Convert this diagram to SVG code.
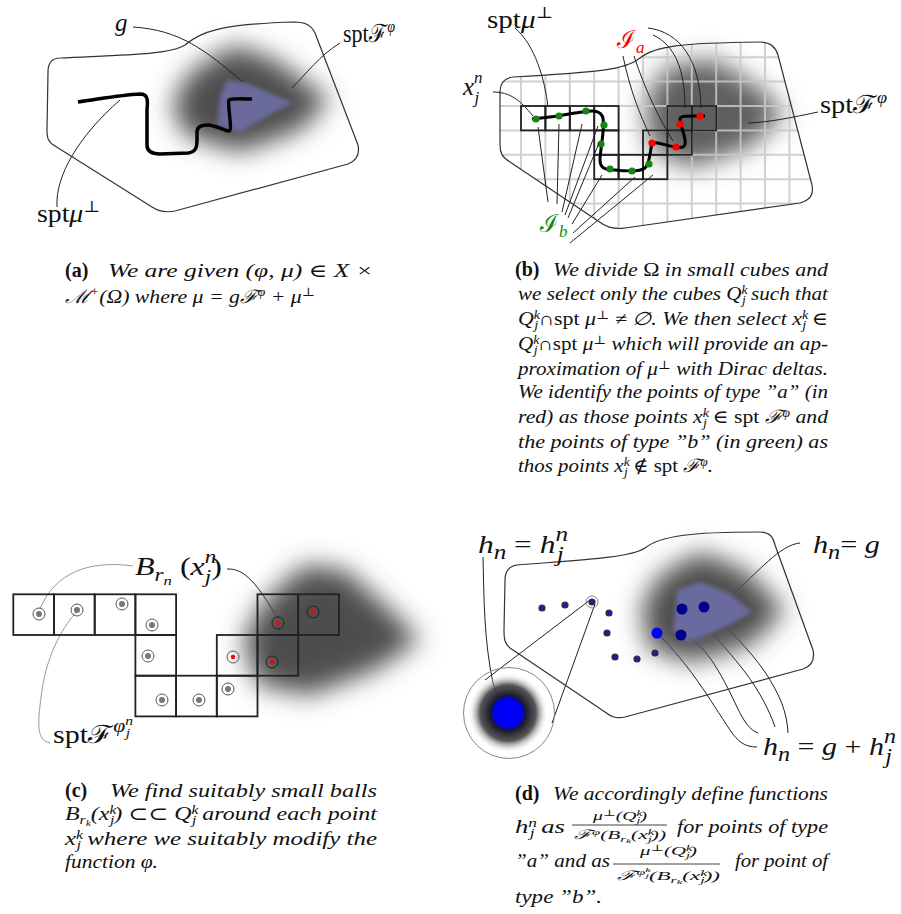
<svg xmlns="http://www.w3.org/2000/svg" width="901" height="914" viewBox="0 0 901 914">
<style>
.lbl{font-family:"Liberation Serif","DejaVu Serif",serif;font-size:25px;fill:#111}
.cap{font-family:"Liberation Serif","DejaVu Serif",serif;font-size:18.5px;font-style:italic;fill:#111}
.frac{font-family:"Liberation Serif","DejaVu Serif",serif;font-size:13px;font-style:italic;fill:#111}
.bf{font-family:"Liberation Serif","DejaVu Serif",serif;font-size:20px;font-weight:bold;fill:#111}
.it{font-style:italic}
.up{font-style:normal}
.outline{fill:none;stroke:#333;stroke-width:1.2}
.lead{fill:none;stroke:#222;stroke-width:1}
.leadg{fill:none;stroke:#999;stroke-width:1}
.box{fill:none;stroke:#222;stroke-width:1.8}
.ring{fill:none;stroke:#555;stroke-width:1}
.gdot{fill:#777;filter:url(#bd)}
.rdot{fill:#ff0000}
.green{fill:#118811}
.red{fill:#ff0000}
.sdot{fill:#1a1aa0;stroke:#333;stroke-width:1.2;filter:url(#bd)}
</style>
<defs>
<filter id="bl" x="-50%" y="-50%" width="200%" height="200%"><feGaussianBlur stdDeviation="13"/></filter>
<filter id="bs" x="-20%" y="-20%" width="140%" height="140%"><feGaussianBlur stdDeviation="2"/></filter>
<filter id="bd" x="-50%" y="-50%" width="200%" height="200%"><feGaussianBlur stdDeviation="0.7"/></filter>
<clipPath id="clipB"><path d="M513,77 C600,72 625,70 640,58 C655,46 680,43 760,42 C772,42 776,48 778,55 L812,185 C814,195 810,200 800,203 L625,228 C612,230 605,226 598,221 L510,162 C502,157 500,153 500,145 L500,92 C500,83 505,78 513,77 Z"/></clipPath>
<radialGradient id="mag" cx="0.5" cy="0.5" r="0.5">
<stop offset="0" stop-color="#0000ff"/>
<stop offset="0.36" stop-color="#0000ee"/>
<stop offset="0.44" stop-color="#1a1a2a"/>
<stop offset="0.7" stop-color="#444" stop-opacity="0.9"/>
<stop offset="1" stop-color="#fff" stop-opacity="0"/>
</radialGradient>
</defs>
<rect width="901" height="914" fill="#fff"/>

<!-- Panel (a) -->
<g id="panel-a">
<polygon points="190,72 235,45 275,60 330,100 300,130 240,152 185,135 172,105" fill="#4e4e4e" filter="url(#bl)"/>
<polygon points="227,80 247,83 293,103 273,113 240,132 217,125 220,97" fill="#6b6b9c" filter="url(#bs)"/>
<path class="outline" d="M60,58 C120,55 170,55 185,45 C200,32 220,24 295,22 C305,22 312,26 315,33 L358,145 C360,155 356,161 348,164 L175,211 C165,213 158,211 152,207 L55,146 C48,142 47,138 47,130 L48,72 C48,63 52,58 60,58 Z"/>
<path d="M78,102 C100,99 120,95 140,94 C148,94 148,100 147,110 L147,145 C147,152 152,154 160,154 L188,153 C196,152 197,147 197,140 L197,132 C197,126 202,125 208,125 C215,125 225,131 229,131 C233,130 227,104 229,100 C231,98 245,99 252,99" fill="none" stroke="#000" stroke-width="3.5"/>
</g>
<g id="labels-a">
<text class="lbl it" x="115" y="31">g</text>
<text class="lbl" x="343" y="42" textLength="52" lengthAdjust="spacingAndGlyphs">spt<tspan>ℱ</tspan><tspan dy="-10" font-size="16" class="it">φ</tspan></text>
<text class="lbl" x="37" y="222" textLength="63" lengthAdjust="spacingAndGlyphs">spt<tspan class="it">μ</tspan><tspan dy="-10" font-size="16">⊥</tspan></text>
</g>

<!-- Panel (b) -->
<g id="panel-b">
<polygon points="665,68 712,58 760,88 785,115 748,148 690,168 650,148 645,102" fill="#5e5e5e" filter="url(#bl)"/>
<path clip-path="url(#clipB)" stroke="#c8c8c8" stroke-opacity="0.85" stroke-width="2" fill="none" d="M496.6,30V235M521,30V235M545.4,30V235M569.8,30V235M594.2,30V235M618.6,30V235M643,30V235M667.4,30V235M691.8,30V235M716.2,30V235M740.6,30V235M765,30V235M789.4,30V235M813.8,30V235M495,32.8H820M495,57.2H820M495,81.6H820M495,106H820M495,130.4H820M495,154.8H820M495,179.2H820M495,203.6H820M495,228H820"/>
<path class="outline" d="M513,77 C600,72 625,70 640,58 C655,46 680,43 760,42 C772,42 776,48 778,55 L812,185 C814,195 810,200 800,203 L625,228 C612,230 605,226 598,221 L510,162 C502,157 500,153 500,145 L500,92 C500,83 505,78 513,77 Z"/>
<g class="box">
<rect x="521" y="106" width="24.4" height="24.4"/><rect x="545.4" y="106" width="24.4" height="24.4"/><rect x="569.8" y="106" width="24.4" height="24.4"/><rect x="594.2" y="106" width="24.4" height="24.4"/>
<rect x="667.4" y="106" width="24.4" height="24.4"/><rect x="691.8" y="106" width="24.4" height="24.4"/>
<rect x="594.2" y="130.4" width="24.4" height="24.4"/><rect x="643" y="130.4" width="24.4" height="24.4"/><rect x="667.4" y="130.4" width="24.4" height="24.4"/>
<rect x="594.2" y="154.8" width="24.4" height="24.4"/><rect x="618.6" y="154.8" width="24.4" height="24.4"/><rect x="643" y="154.8" width="24.4" height="24.4"/>
</g>
<path d="M532,119 C545,118 560,116 575,113 C590,111 600,108 603,118 C605,130 600,150 600,160 C600,168 605,170 615,170 C625,171 640,172 645,168 C650,164 650,150 652,144 C655,140 665,146 676,147 C682,148 686,148 685,140 C684,132 680,125 680,119 C680,115 690,116 705,116" fill="none" stroke="#000" stroke-width="3"/>
<g class="green">
<circle cx="536" cy="119" r="3.6"/><circle cx="559" cy="116" r="3.6"/><circle cx="586" cy="111" r="3.6"/><circle cx="604" cy="125" r="3.6"/><circle cx="601" cy="144" r="3.6"/><circle cx="610" cy="169" r="3.6"/><circle cx="632" cy="171" r="3.6"/><circle cx="649" cy="164" r="3.6"/>
</g>
<g class="red">
<circle cx="652" cy="143" r="3.6"/><circle cx="676" cy="147" r="3.6"/><circle cx="680" cy="124" r="3.6"/><circle cx="700" cy="116" r="3.6"/>
</g>
</g>
<g id="connectors">
<path class="lead" d="M133,27 C180,30 205,50 243,82"/>
<path class="lead" d="M340,43 C320,55 305,75 292,88"/>
<path class="lead" d="M57,207 C55,175 80,135 120,100"/>
<path class="lead" d="M515,28 C535,45 545,80 548,107"/>
<path class="lead" d="M493,92 C510,92 520,100 533,116"/>
<path class="lead" d="M818,112 C790,118 770,122 748,123"/>
<path class="lead" d="M623,56 C630,90 640,115 650,136"/>
<path class="lead" d="M634,56 C645,90 660,120 673,141"/>
<path class="lead" d="M653,35 C675,45 685,70 685,108"/>
<path class="lead" d="M648,28 C680,32 700,60 701,108"/>
<path class="lead" d="M548,202 L538,127"/>
<path class="lead" d="M557,204 L559,124"/>
<path class="lead" d="M562,212 L582,124"/>
<path class="lead" d="M565,215 L598,126"/>
<path class="lead" d="M568,218 L599,143"/>
<path class="lead" d="M572,224 L602,175"/>
<path class="lead" d="M573,233 L635,177"/>
<path class="lead" d="M570,243 L653,175"/>
<path class="leadg" d="M133,566 C90,560 55,572 40,609"/>
<path class="lead" d="M227,569 C245,568 258,585 278,619"/>
<path class="leadg" d="M50,743 C35,740 38,720 42,690 C48,650 65,625 77,611"/>
<path class="lead" d="M483,557 C484,600 484,640 493,683 C497,695 502,705 508,710"/>
<path class="lead" d="M800,543 C780,545 760,570 727,600"/>
<path class="lead" d="M485,680 L590,600"/>
<path class="lead" d="M552,723 L595,604"/>
<path class="lead" d="M657,633 C690,665 710,700 730,730 C738,742 745,747 757,747"/>
<path class="lead" d="M681,635 C700,640 715,660 737,707 C744,722 750,730 758,733"/>
<path class="lead" d="M682,608 C700,620 720,640 745,672 C760,692 770,712 775,727"/>
<path class="lead" d="M704,606 C725,625 750,650 765,672 C780,695 787,712 788,733"/>
</g>
<g id="labels-b">
<text class="lbl" x="487" y="28" textLength="66" lengthAdjust="spacingAndGlyphs">spt<tspan class="it">μ</tspan><tspan dy="-10" font-size="16">⊥</tspan></text>
<text class="lbl it" x="463" y="95" font-size="27">x<tspan dy="-12" font-size="17">n</tspan><tspan dx="-8" dy="20" font-size="17">j</tspan></text>
<text class="lbl" x="617" y="48" style="fill:#ff0000">ℐ<tspan dy="5" font-size="17" class="it">a</tspan></text>
<text class="lbl" x="540" y="232" style="fill:#118811">ℐ<tspan dy="5" font-size="17" class="it">b</tspan></text>
<text class="lbl" x="820" y="113" textLength="67" lengthAdjust="spacingAndGlyphs">spt<tspan>ℱ</tspan><tspan dy="-10" font-size="16" class="it">φ</tspan></text>
</g>

<!-- Panel (c) -->
<g id="panel-c">
<polygon points="265,600 305,565 345,570 390,610 420,640 375,670 310,695 258,685 243,640" fill="#4e4e4e" filter="url(#bl)"/>
<g class="box">
<rect x="13.3" y="594.3" width="40.7" height="40.7"/><rect x="54" y="594.3" width="40.7" height="40.7"/><rect x="94.7" y="594.3" width="40.7" height="40.7"/><rect x="135.4" y="594.3" width="40.7" height="40.7"/>
<rect x="257.5" y="594.3" width="40.7" height="40.7"/><rect x="298.2" y="594.3" width="40.7" height="40.7"/>
<rect x="135.4" y="635" width="40.7" height="40.7"/><rect x="216.8" y="635" width="40.7" height="40.7"/><rect x="257.5" y="635" width="40.7" height="40.7"/>
<rect x="135.4" y="675.7" width="40.7" height="40.7"/><rect x="176.1" y="675.7" width="40.7" height="40.7"/><rect x="216.8" y="675.7" width="40.7" height="40.7"/>
</g>
<g class="ring">
<circle cx="39" cy="614" r="6"/><circle cx="77" cy="610" r="6"/><circle cx="122" cy="604" r="6"/><circle cx="152" cy="625" r="6"/><circle cx="148" cy="656" r="6"/><circle cx="162" cy="700" r="6"/><circle cx="199" cy="700" r="6"/><circle cx="228" cy="689" r="6"/>
<circle cx="233" cy="657" r="6"/><circle cx="278" cy="623" r="6" stroke="#222"/><circle cx="313" cy="612" r="6" stroke="#222"/><circle cx="272" cy="662" r="6" stroke="#222"/>
</g>
<g class="gdot">
<circle cx="39" cy="614" r="3"/><circle cx="77" cy="610" r="3"/><circle cx="122" cy="604" r="3"/><circle cx="152" cy="625" r="3"/><circle cx="148" cy="656" r="3"/><circle cx="162" cy="700" r="3"/><circle cx="199" cy="700" r="3"/><circle cx="228" cy="689" r="3"/>
</g>
<g class="rdot">
<circle cx="233" cy="657" r="2.2"/><circle cx="278" cy="623" r="2.2"/><circle cx="313" cy="612" r="2.2"/><circle cx="272" cy="662" r="2.2"/>
</g>
</g>
<g id="labels-c">
<text class="lbl" x="135" y="575" font-size="27" textLength="87" lengthAdjust="spacingAndGlyphs"><tspan class="it">B</tspan><tspan dy="6" font-size="18" class="it">r</tspan><tspan dy="4" font-size="13" class="it">n</tspan><tspan dy="-10"> (</tspan><tspan class="it">x</tspan><tspan dy="-12" font-size="18" class="it">n</tspan><tspan dx="-9" dy="20" font-size="18" class="it">j</tspan><tspan dy="-8">)</tspan></text>
<text class="lbl" x="53" y="743" font-size="26" textLength="80" lengthAdjust="spacingAndGlyphs">spt<tspan>ℱ</tspan><tspan dy="-11" font-size="18" class="it">φ</tspan><tspan dy="-7" font-size="13" class="it">n</tspan><tspan dx="-6" dy="12" font-size="13" class="it">j</tspan></text>
</g>

<!-- Panel (d) -->
<g id="panel-d">
<polygon points="660,575 700,552 745,570 785,610 750,645 690,662 648,648 642,605" fill="#4e4e4e" filter="url(#bl)"/>
<polygon points="677,590 700,582 727,592 752,612 733,623 703,637 687,642 673,630" fill="#6a6a9e" filter="url(#bs)"/>
<path class="outline" d="M517,565 C580,560 630,558 645,548 C660,536 690,532 760,532 C770,532 773,537 775,545 L813,650 C815,660 812,666 803,669 L625,717 C615,719 610,716 605,712 L510,648 C505,644 504,640 504,630 L505,580 C505,570 510,566 517,565 Z"/>
<circle cx="508" cy="713" r="40" fill="url(#mag)"/>
<circle cx="509" cy="713" r="45.5" fill="none" stroke="#888" stroke-width="1"/>
<circle cx="592" cy="602" r="6" fill="none" stroke="#888" stroke-width="1"/>
<g class="sdot">
<circle cx="542" cy="608" r="3"/><circle cx="565" cy="605" r="3"/><circle cx="592" cy="602" r="3"/><circle cx="609" cy="613" r="3"/><circle cx="607" cy="633" r="3"/><circle cx="615" cy="657" r="3"/><circle cx="637" cy="659" r="3"/><circle cx="655" cy="653" r="3"/>
</g>
<circle cx="657" cy="633" r="5.5" fill="#0000ff"/>
<circle cx="682" cy="609" r="5.5" fill="#00008a"/>
<circle cx="704" cy="607" r="5.5" fill="#00008a"/>
<circle cx="681" cy="635" r="5.5" fill="#00008a"/>
</g>
<g id="labels-d">
<text class="lbl" x="478" y="553" font-size="29" textLength="90" lengthAdjust="spacingAndGlyphs"><tspan class="it">h</tspan><tspan dy="6" font-size="20" class="it">n</tspan><tspan dy="-6"> = </tspan><tspan class="it">h</tspan><tspan dy="-12" font-size="20" class="it">n</tspan><tspan dx="-9" dy="20" font-size="20" class="it">j</tspan></text>
<text class="lbl" x="813" y="553" font-size="29" textLength="67" lengthAdjust="spacingAndGlyphs"><tspan class="it">h</tspan><tspan dy="6" font-size="20" class="it">n</tspan><tspan dy="-6">= </tspan><tspan class="it">g</tspan></text>
<text class="lbl" x="763" y="755" font-size="29" textLength="133" lengthAdjust="spacingAndGlyphs"><tspan class="it">h</tspan><tspan dy="6" font-size="20" class="it">n</tspan><tspan dy="-6"> = </tspan><tspan class="it">g</tspan><tspan> + </tspan><tspan class="it">h</tspan><tspan dy="-12" font-size="20" class="it">n</tspan><tspan dx="-9" dy="20" font-size="20" class="it">j</tspan></text>
</g>

<!-- Captions -->
<g id="caption-a">
<text class="bf" x="65" y="277">(a)</text>
<text class="cap" x="108" y="277" textLength="265" lengthAdjust="spacingAndGlyphs">We  are  given  (φ, μ)  ∈  X ×</text>
<text class="cap" x="65" y="303" textLength="250" lengthAdjust="spacingAndGlyphs">ℳ<tspan dy="-7" font-size="12">+</tspan><tspan dy="7">(Ω) where μ = gℱ</tspan><tspan dy="-7" font-size="12">φ</tspan><tspan dy="7"> + μ</tspan><tspan dy="-7" font-size="12">⊥</tspan></text>
</g>
<g id="caption-b">
<text class="bf" x="515" y="276">(b)</text>
<text class="cap" x="553" y="276" textLength="275" lengthAdjust="spacingAndGlyphs">We divide <tspan class="up">Ω</tspan> in small cubes and</text>
<text class="cap" x="518" y="300" textLength="310" lengthAdjust="spacingAndGlyphs">we select only the cubes Q<tspan dy="-6" font-size="12">k</tspan><tspan dx="-5" dy="10" font-size="12">j</tspan><tspan dy="-4">  such that</tspan></text>
<text class="cap" x="518" y="325" textLength="310" lengthAdjust="spacingAndGlyphs">Q<tspan dy="-6" font-size="12">k</tspan><tspan dx="-5" dy="10" font-size="12">j</tspan><tspan dy="-4" class="up">∩spt </tspan>μ<tspan dy="-6" font-size="12">⊥</tspan><tspan dy="6"> ≠ ∅.  We then select x</tspan><tspan dy="-6" font-size="12">k</tspan><tspan dx="-5" dy="10" font-size="12">j</tspan><tspan dy="-4"> ∈</tspan></text>
<text class="cap" x="518" y="350" textLength="310" lengthAdjust="spacingAndGlyphs">Q<tspan dy="-6" font-size="12">k</tspan><tspan dx="-5" dy="10" font-size="12">j</tspan><tspan dy="-4" class="up">∩spt </tspan>μ<tspan dy="-6" font-size="12">⊥</tspan><tspan dy="6"> which will provide an ap-</tspan></text>
<text class="cap" x="518" y="375" textLength="310" lengthAdjust="spacingAndGlyphs">proximation of μ<tspan dy="-6" font-size="12">⊥</tspan><tspan dy="6"> with Dirac deltas.</tspan></text>
<text class="cap" x="518" y="398" textLength="310" lengthAdjust="spacingAndGlyphs">We identify the points of type ”a” (in</text>
<text class="cap" x="518" y="423" textLength="310" lengthAdjust="spacingAndGlyphs">red) as those points x<tspan dy="-6" font-size="12">k</tspan><tspan dx="-5" dy="10" font-size="12">j</tspan><tspan dy="-4"> ∈ </tspan><tspan class="up">spt </tspan>ℱ<tspan dy="-6" font-size="12">φ</tspan><tspan dy="6">  and</tspan></text>
<text class="cap" x="518" y="448" textLength="310" lengthAdjust="spacingAndGlyphs">the points of type ”b” (in green) as</text>
<text class="cap" x="518" y="472" textLength="195" lengthAdjust="spacingAndGlyphs">thos points x<tspan dy="-6" font-size="12">k</tspan><tspan dx="-5" dy="10" font-size="12">j</tspan><tspan dy="-4"> ∉ </tspan><tspan class="up">spt </tspan>ℱ<tspan dy="-6" font-size="12">φ</tspan><tspan dy="6">.</tspan></text>
</g>
<g id="caption-c">
<text class="bf" x="65" y="797">(c)</text>
<text class="cap" x="110" y="797" textLength="267" lengthAdjust="spacingAndGlyphs">We  find  suitably  small  balls</text>
<text class="cap" x="65" y="820" textLength="312" lengthAdjust="spacingAndGlyphs">B<tspan dy="4" font-size="12">r</tspan><tspan dy="2" font-size="9">k</tspan><tspan dy="-6">(x</tspan><tspan dy="-6" font-size="12">k</tspan><tspan dx="-5" dy="10" font-size="12">j</tspan><tspan dy="-4">) ⊂⊂  Q</tspan><tspan dy="-6" font-size="12">k</tspan><tspan dx="-5" dy="10" font-size="12">j</tspan><tspan dy="-4">  around each point</tspan></text>
<text class="cap" x="65" y="845" textLength="312" lengthAdjust="spacingAndGlyphs">x<tspan dy="-6" font-size="12">k</tspan><tspan dx="-5" dy="10" font-size="12">j</tspan><tspan dy="-4">   where  we  suitably  modify  the</tspan></text>
<text class="cap" x="65" y="868" textLength="93" lengthAdjust="spacingAndGlyphs">function φ.</text>
</g>
<g id="caption-d">
<text class="bf" x="515" y="800">(d)</text>
<text class="cap" x="553" y="800" textLength="275" lengthAdjust="spacingAndGlyphs">We accordingly define functions</text>
<text class="cap" x="515" y="833" textLength="50" lengthAdjust="spacingAndGlyphs">h<tspan dy="-6" font-size="12">n</tspan><tspan dx="-5" dy="10" font-size="12">j</tspan><tspan dy="-4">  as</tspan></text>
<text class="frac" x="593" y="820" textLength="54" lengthAdjust="spacingAndGlyphs">μ<tspan dy="-4" font-size="9">⊥</tspan><tspan dy="4">(Q</tspan><tspan dy="-4" font-size="9">k</tspan><tspan dx="-4" dy="7" font-size="9">j</tspan><tspan dy="-3">)</tspan></text>
<line x1="572" y1="825" x2="667" y2="825" stroke="#111" stroke-width="0.8"/>
<text class="frac" x="574" y="839" textLength="92" lengthAdjust="spacingAndGlyphs">ℱ<tspan dy="-4" font-size="9">φ</tspan><tspan dy="4">(B</tspan><tspan dy="3" font-size="9">r</tspan><tspan dy="1" font-size="7">k</tspan><tspan dy="-4">(x</tspan><tspan dy="-4" font-size="9">k</tspan><tspan dx="-4" dy="7" font-size="9">j</tspan><tspan dy="-3">))</tspan></text>
<text class="cap" x="677" y="833" textLength="151" lengthAdjust="spacingAndGlyphs">for points of type</text>
<text class="cap" x="515" y="867" textLength="95" lengthAdjust="spacingAndGlyphs">”a” and as</text>
<text class="frac" x="640" y="855" textLength="57" lengthAdjust="spacingAndGlyphs">μ<tspan dy="-4" font-size="9">⊥</tspan><tspan dy="4">(Q</tspan><tspan dy="-4" font-size="9">k</tspan><tspan dx="-4" dy="7" font-size="9">j</tspan><tspan dy="-3">)</tspan></text>
<line x1="613" y1="864" x2="720" y2="864" stroke="#111" stroke-width="0.8"/>
<text class="frac" x="617" y="880" textLength="103" lengthAdjust="spacingAndGlyphs">ℱ<tspan dy="-5" font-size="9">φ</tspan><tspan dy="-3" font-size="7">k</tspan><tspan dx="-3" dy="6" font-size="7">j</tspan><tspan dy="2">(B</tspan><tspan dy="3" font-size="9">r</tspan><tspan dy="1" font-size="7">k</tspan><tspan dy="-4">(x</tspan><tspan dy="-4" font-size="9">k</tspan><tspan dx="-4" dy="7" font-size="9">j</tspan><tspan dy="-3">))</tspan></text>
<text class="cap" x="735" y="867" textLength="93" lengthAdjust="spacingAndGlyphs">for point of</text>
<text class="cap" x="515" y="903" textLength="87" lengthAdjust="spacingAndGlyphs">type ”b”.</text>
</g>
</svg>
